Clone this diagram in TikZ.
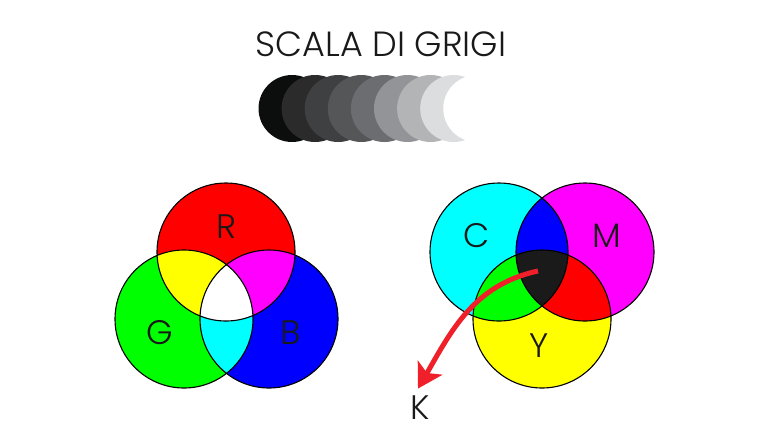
\documentclass[tikz,border=0pt]{standalone}
\usepackage{fontspec}
\setmainfont{Poppins Light}
\usetikzlibrary{arrows.meta,positioning}

\definecolor{grey0}{HTML}{0C0D0D}
\definecolor{grey1}{HTML}{2B2B2B}
\definecolor{grey2}{HTML}{3F4042}
\definecolor{grey3}{HTML}{555658}
\definecolor{grey4}{HTML}{6C6D70}
\definecolor{grey5}{HTML}{939497}
\definecolor{grey6}{HTML}{B3B4B6}
\definecolor{grey7}{HTML}{DCDDDF}
\definecolor{grey8}{HTML}{FFFFFF}
\definecolor{pr}{RGB}{255,0,0}
\definecolor{pg}{RGB}{0,255,0}
\definecolor{pb}{RGB}{0,0,255}
\definecolor{pc}{RGB}{0,255,255}
\definecolor{pm}{RGB}{255,0,255}
\definecolor{py}{RGB}{255,255,0}
\definecolor{keyblack}{HTML}{1A1A1A}
\definecolor{arrowred}{HTML}{F0202A}

\tikzset{
  ring/.style={draw=black,line width=1.1pt},
  letter/.style={font=\fontsize{34}{34}\selectfont,text=black!90}
}

\begin{document}
\begin{tikzpicture}[x=1pt,y=-1pt]
\useasboundingbox (0,0) rectangle (768,432);
% title
\node[font=\fontsize{35}{35}\selectfont,text=black!90] (title) at (381,44) {SCALA DI GRIGI};
% grey scale
\foreach \i in {0,...,8}
  \fill[grey\i] (292+23.1*\i,108.5) circle (33.5);
% additive circles
\coordinate (r) at (226,252);
\coordinate (g) at (184,319);
\coordinate (b) at (269,319);
\fill[pr] (r) circle (69);
\fill[pg] (g) circle (69);
\fill[pb] (b) circle (69);
\begin{scope}
  \clip (r) circle (69);
  \fill[py] (g) circle (69);
  \fill[pm] (b) circle (69);
\end{scope}
\begin{scope}
  \clip (g) circle (69);
  \fill[pc] (b) circle (69);
  \clip (b) circle (69);
  \fill[white] (r) circle (69);
\end{scope}
\draw[ring] (r) circle (69) (g) circle (69) (b) circle (69);
\node[letter] (rl) at (226,227) {R};
\node[letter] (gl) at (160,333) {G};
\node[letter] (bl) at (291,333) {B};
% subtractive circles
\coordinate (c) at (499,252);
\coordinate (m) at (585,252);
\coordinate (y) at (542,319);
\fill[pc] (c) circle (69);
\fill[pm] (m) circle (69);
\fill[py] (y) circle (69);
\begin{scope}
  \clip (c) circle (69);
  \fill[pb] (m) circle (69);
  \fill[pg] (y) circle (69);
\end{scope}
\begin{scope}
  \clip (m) circle (69);
  \fill[pr] (y) circle (69);
  \clip (y) circle (69);
  \fill[keyblack] (c) circle (69);
\end{scope}
\draw[ring] (c) circle (69) (m) circle (69) (y) circle (69);
\node[letter] (cl) at (477,236) {C};
\node[letter] (ml) at (607,236) {M};
\node[letter] (yl) at (539,346) {Y};
\node[letter] (kl) at (420,408) {K};
% black goes to K
\coordinate (ks) at (538,271);
\draw[arrowred,line width=5pt,-{Stealth[length=24pt,width=28pt,inset=6pt]}]
  (ks) to[out=192,in=60] ([xshift=-2,yshift=4]kl.north);
\end{tikzpicture}
\end{document}
